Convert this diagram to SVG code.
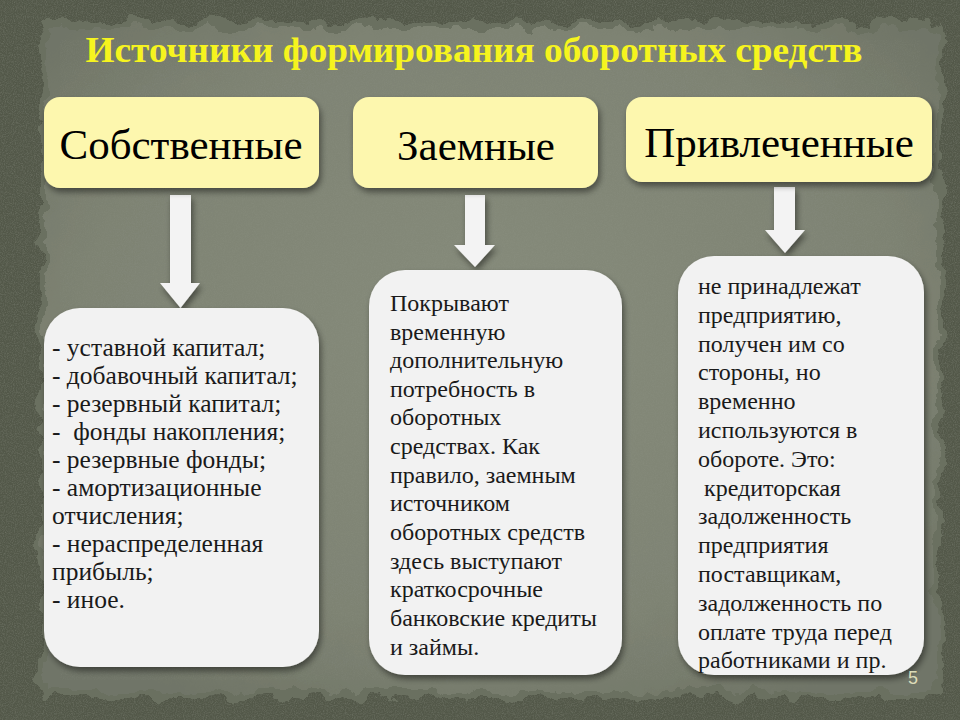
<svg xmlns="http://www.w3.org/2000/svg" width="960" height="720" viewBox="0 0 960 720">
  <defs>
    <style>
      .title { font-family: "Liberation Serif", "DejaVu Serif", serif; font-weight: bold; font-size: 36px; fill: #f6f41e; }
      .label { font-family: "Liberation Serif", "DejaVu Serif", serif; font-size: 43px; fill: #000; }
      .body { font-family: "Liberation Serif", "DejaVu Serif", serif; font-size: 24px; fill: #1a1a1a; }
      .bodyA { font-size: 25.5px; }
      .ybox { fill: #fdf7ae; }
      .wbox { fill: #f2f2f2; }
      .arrow { fill: #f3f3f3; }
      .pnum { font-family: "Liberation Sans", Arial, sans-serif; font-size: 18px; fill: #dcdcb8; }
    </style>
    <filter id="noise" x="0" y="0" width="100%" height="100%">
      <feTurbulence type="fractalNoise" baseFrequency="0.9" numOctaves="3" seed="4" result="n"/>
      <feColorMatrix in="n" type="matrix" values="0 0 0 0 0.35  0 0 0 0 0.37  0 0 0 0 0.32  0 0 0 0.9 -0.35" result="c"/>
      <feComposite in="c" in2="SourceGraphic" operator="in"/>
    </filter>
    <filter id="torn" x="-5%" y="-5%" width="110%" height="110%">
      <feTurbulence type="fractalNoise" baseFrequency="0.04" numOctaves="4" seed="7" result="t"/>
      <feDisplacementMap in="SourceGraphic" in2="t" scale="22" xChannelSelector="R" yChannelSelector="G"/>
    </filter>
    <filter id="shadow" x="-10%" y="-10%" width="125%" height="130%">
      <feGaussianBlur in="SourceAlpha" stdDeviation="3"/>
      <feOffset dx="2" dy="4" result="b"/>
      <feComponentTransfer in="b" result="s"><feFuncA type="linear" slope="0.45"/></feComponentTransfer>
      <feMerge><feMergeNode in="s"/><feMergeNode in="SourceGraphic"/></feMerge>
    </filter>
    <radialGradient id="panel" cx="50%" cy="45%" r="65%">
      <stop offset="0" stop-color="#868b7b"/>
      <stop offset="0.7" stop-color="#7e8373"/>
      <stop offset="1" stop-color="#707567"/>
    </radialGradient>
  </defs>

  <!-- background frame -->
  <rect x="0" y="0" width="960" height="720" fill="#535849"/>
  <rect x="0" y="0" width="960" height="720" fill="#000" filter="url(#noise)" opacity="0.6"/>
  <rect x="40" y="22" width="902" height="676" fill="#6a6f60" filter="url(#torn)"/>
  <rect x="46" y="28" width="890" height="664" fill="url(#panel)" filter="url(#torn)"/>
  <rect x="60" y="40" width="860" height="640" fill="#000" filter="url(#noise)" opacity="0.25"/>

  <g id="title">
    <text class="title" x="474" y="62" text-anchor="middle" textLength="777" lengthAdjust="spacingAndGlyphs">Источники формирования оборотных средств</text>
  </g>

  <g id="connectors">
    <polygon class="arrow" filter="url(#shadow)" points="170,195 191,195 191,283 200,283 180.5,308 160,283 170,283"/>
    <polygon class="arrow" filter="url(#shadow)" points="465,195 485,195 485,245 495,245 475,267 454,245 465,245"/>
    <polygon class="arrow" filter="url(#shadow)" points="774,187 795,187 795,230 805,230 785,253 765,230 774,230"/>
  </g>

  <g id="src-own">
    <rect class="ybox" filter="url(#shadow)" x="44" y="97" width="275" height="91" rx="16"/>
    <text class="label" x="181" y="159" text-anchor="middle">Собственные</text>
  </g>
  <g id="src-borrowed">
    <rect class="ybox" filter="url(#shadow)" x="353" y="97" width="245" height="91" rx="16"/>
    <text class="label" x="476" y="160" text-anchor="middle">Заемные</text>
  </g>
  <g id="src-attracted">
    <rect class="ybox" filter="url(#shadow)" x="626" y="97" width="306" height="85" rx="16"/>
    <text class="label" x="779" y="157" text-anchor="middle">Привлеченные</text>
  </g>

  <g id="desc-own">
    <rect class="wbox" filter="url(#shadow)" x="44" y="308" width="275" height="359" rx="36"/>
    <text class="body bodyA">
      <tspan x="52" y="356">- уставной капитал;</tspan>
      <tspan x="52" y="384">- добавочный капитал;</tspan>
      <tspan x="52" y="412">- резервный капитал;</tspan>
      <tspan x="52" y="440" xml:space="preserve">-  фонды накопления;</tspan>
      <tspan x="52" y="468">- резервные фонды;</tspan>
      <tspan x="52" y="496">- амортизационные</tspan>
      <tspan x="52" y="524">отчисления;</tspan>
      <tspan x="52" y="552">- нераспределенная</tspan>
      <tspan x="52" y="580">прибыль;</tspan>
      <tspan x="52" y="608">- иное.</tspan>
    </text>
  </g>

  <g id="desc-borrowed">
    <rect class="wbox" filter="url(#shadow)" x="369" y="270" width="253" height="405" rx="36"/>
    <text class="body">
      <tspan x="390" y="311">Покрывают</tspan>
      <tspan x="390" y="340">временную</tspan>
      <tspan x="390" y="368">дополнительную</tspan>
      <tspan x="390" y="397">потребность в</tspan>
      <tspan x="390" y="425">оборотных</tspan>
      <tspan x="390" y="454">средствах. Как</tspan>
      <tspan x="390" y="483">правило, заемным</tspan>
      <tspan x="390" y="511">источником</tspan>
      <tspan x="390" y="540">оборотных средств</tspan>
      <tspan x="390" y="569">здесь выступают</tspan>
      <tspan x="390" y="597">краткосрочные</tspan>
      <tspan x="390" y="626">банковские кредиты</tspan>
      <tspan x="390" y="655">и займы.</tspan>
    </text>
  </g>

  <g id="desc-attracted">
    <rect class="wbox" filter="url(#shadow)" x="678" y="256" width="246" height="419" rx="36"/>
    <text class="body">
      <tspan x="698" y="294">не принадлежат</tspan>
      <tspan x="698" y="323">предприятию,</tspan>
      <tspan x="698" y="352">получен им со</tspan>
      <tspan x="698" y="380">стороны, но</tspan>
      <tspan x="698" y="409">временно</tspan>
      <tspan x="698" y="438">используются в</tspan>
      <tspan x="698" y="467">обороте. Это:</tspan>
      <tspan x="698" y="496" xml:space="preserve"> кредиторская</tspan>
      <tspan x="698" y="524">задолженность</tspan>
      <tspan x="698" y="553">предприятия</tspan>
      <tspan x="698" y="582">поставщикам,</tspan>
      <tspan x="698" y="611">задолженность по</tspan>
      <tspan x="698" y="640">оплате труда перед</tspan>
      <tspan x="698" y="668">работниками и пр.</tspan>
    </text>
  </g>

  <text class="pnum" x="908" y="684">5</text>
</svg>
